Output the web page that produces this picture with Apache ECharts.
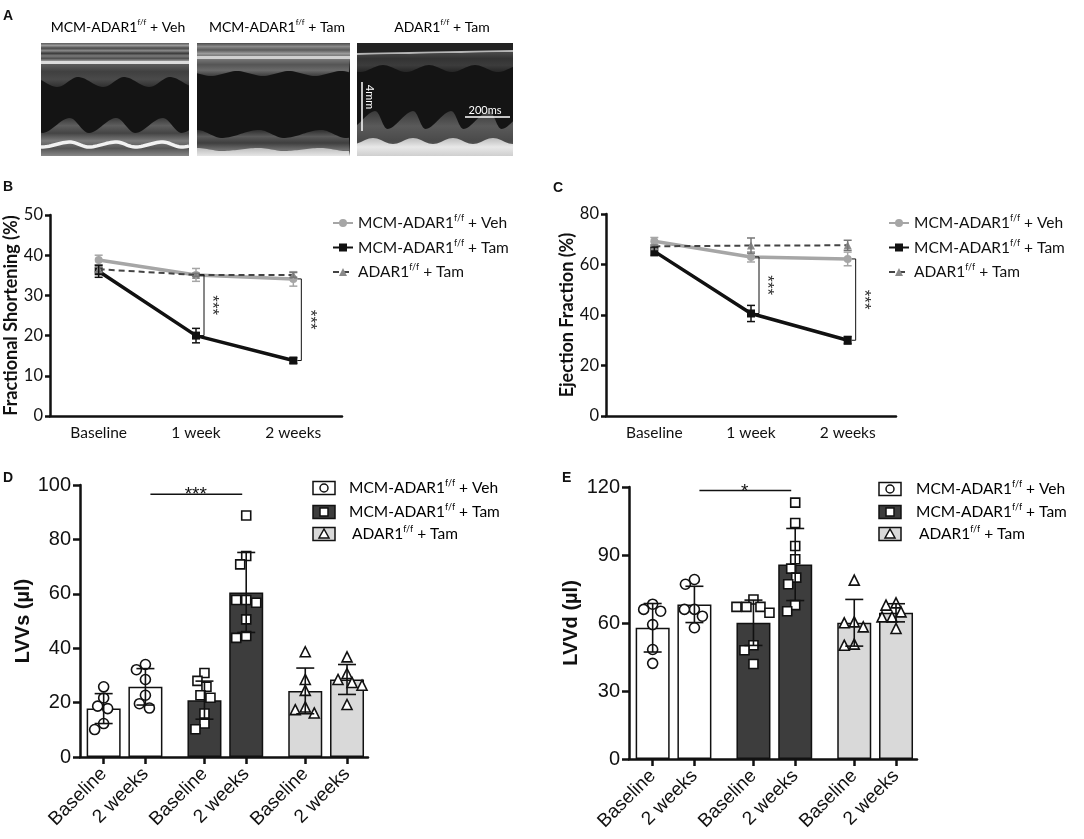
<!DOCTYPE html>
<html>
<head>
<meta charset="utf-8">
<script src="https://cdn.jsdelivr.net/npm/echarts@6/dist/echarts.min.js"></script>
<style>
html, body { margin: 0; padding: 0; background: #fff; }
#fig { width: 1084px; height: 839px; }
</style>
</head>
<body>
<div id="fig"></div>
<script>
// ---- data ----
let timeLabels = ['Baseline', '1 week', '2 weeks'];
let barLabels = ['Baseline', '2 weeks'];

// B: fractional shortening (%)
let fsVeh = [38.8, 35.1, 34.1];
let fsVehErr = [1.2, 1.6, 1.8];
let fsTam = [36.0, 20.0, 13.8];
let fsTamErr = [1.5, 1.8, 0.7];
let fsAdar = [36.5, 35.1, 35.1];
let fsAdarErr = [0.6, 0.4, 0.6];

// C: ejection fraction (%)
let efVeh = [69.2, 63.0, 62.2];
let efVehErr = [1.5, 2.0, 2.7];
let efTam = [65.2, 40.6, 30.0];
let efTamErr = [1.7, 3.2, 1.5];
let efAdar = [67.2, 67.5, 67.6];
let efAdarErr = [0.5, 3.0, 2.0];

// D: LVVs (µl) - bars in order Veh base, Veh 2w, Tam base, Tam 2w, Adar base, Adar 2w
let lvvsMean = [17.8, 25.8, 20.9, 60.5, 24.3, 28.5];
let lvvsSd = [5.5, 6.7, 7.0, 14.7, 8.4, 5.5];
let lvvsVehBase = [25.8, 21.7, 18.7, 17.8, 12.3, 10.1];
let lvvsVeh2w = [34.0, 32.1, 28.5, 22.7, 19.6, 18.0];
let lvvsTamBase = [30.9, 28.0, 25.8, 22.7, 21.8, 16.0, 12.3, 10.2];
let lvvsTam2w = [88.8, 73.9, 70.8, 57.7, 57.7, 56.7, 50.6, 44.5, 43.8];
let lvvsAdarBase = [38.7, 28.5, 24.5, 18.4, 17.4, 16.2];
let lvvsAdar2w = [36.8, 30.7, 28.5, 27.4, 26.4, 19.3];
let lvvsSigY = 96.6;

// E: LVVd (µl)
let lvvdMean = [57.9, 68.2, 60.1, 85.8, 60.1, 64.5];
let lvvdSd = [10.7, 8.0, 10.0, 15.9, 10.3, 4.0];
let lvvdVehBase = [68.3, 66.0, 65.2, 59.3, 48.3, 42.2];
let lvvdVeh2w = [79.2, 77.1, 66.0, 66.0, 63.0, 57.9];
let lvvdTamBase = [70.4, 67.1, 67.1, 67.1, 64.5, 50.2, 48.0, 41.9];
let lvvdTam2w = [113.1, 104.1, 94.0, 88.1, 84.0, 80.0, 77.1, 67.9, 65.2];
let lvvdAdarBase = [78.9, 60.5, 60.1, 58.3, 50.7, 50.2];
let lvvdAdar2w = [68.9, 67.9, 64.9, 62.7, 62.7, 57.6];
let lvvdSigY = 118.5;

// ---- layout / style ----
const FONT = 'Lato, "Open Sans", sans-serif';
const ARIAL = '"Liberation Sans", Arial, sans-serif';
const INK = '#111';
const barColors = ['#ffffff', '#3d3d3d', '#d9d9d9'];
const barSymbols = ['circle', 'rect', 'triangle'];
// bar centres on a 0..14 value axis: pairs of bars, three groups
let xpos = [];
for (let g = 0; g < 3; g++) {
    for (let b = 0; b < 2; b++) xpos.push(1.15 + g * 4.9 + b * 2.03);
}
const pxPerX = 288 / 14;

function richFor(size) {
    return {
        n: {fontSize: size, fontFamily: FONT, color: INK, lineHeight: 18},
        s: {fontSize: Math.round(size * 0.55), fontFamily: FONT, color: INK, verticalAlign: 'top', lineHeight: 11}
    };
}
function groupText(key) {
    if (key === 'Veh') return '{n|MCM-ADAR1}{s|f/f}{n| + Veh}';
    if (key === 'Tam') return '{n|MCM-ADAR1}{s|f/f}{n| + Tam}';
    return '{n|ADAR1}{s|f/f}{n| + Tam}';
}

// spread points sideways so markers don't overlap (like a scatter dot plot)
function swarm(vals, pxPerY, minDist) {
    let order = vals.map((v, i) => i).sort((a, b) => vals[b] - vals[a]);
    let placed = [];
    let off = vals.map(() => 0);
    order.forEach(i => {
        for (let k = 0; k < 60; k++) {
            let c = k === 0 ? 0 : (k % 2 ? -1 : 1) * Math.ceil(k / 2);
            let ok = placed.every(p => Math.hypot(c - p.x, (vals[i] - p.v) * pxPerY) >= minDist);
            if (ok) { off[i] = c; placed.push({x: c, v: vals[i]}); break; }
        }
    });
    return off;
}

function errSeries(xi, data, color, cap, lw) {
    return {
        type: 'custom', xAxisIndex: xi, yAxisIndex: xi, z: 6, silent: true, clip: false,
        data: data,
        renderItem: function (params, api) {
            let x = api.value(0);
            let top = api.coord([x, api.value(2)]);
            let bot = api.coord([x, api.value(1)]);
            let st = {stroke: color, lineWidth: lw};
            return {type: 'group', children: [
                {type: 'line', shape: {x1: top[0], y1: top[1], x2: bot[0], y2: bot[1]}, style: st},
                {type: 'line', shape: {x1: top[0] - cap, y1: top[1], x2: top[0] + cap, y2: top[1]}, style: st},
                {type: 'line', shape: {x1: bot[0] - cap, y1: bot[1], x2: bot[0] + cap, y2: bot[1]}, style: st}
            ]};
        }
    };
}

function lineSeries(name, xi, vals, color, width, symbol, dashed) {
    return {
        name: name, type: 'line', xAxisIndex: xi, yAxisIndex: xi,
        data: vals, symbol: symbol, symbolSize: 8,
        lineStyle: {color: color, width: width, type: dashed ? [6, 4] : 'solid'},
        itemStyle: {color: dashed ? '#8a8a8a' : color},
        z: dashed ? 4 : 3
    };
}

// vertical significance bracket (panels B, C)
function vSig(xi, idxs, topVals, botVals) {
    return {
        type: 'custom', xAxisIndex: xi, yAxisIndex: xi, z: 7, silent: true, clip: false,
        data: idxs.map(i => [i, botVals[i], topVals[i]]),
        renderItem: function (params, api) {
            let t = api.coord([api.value(0), api.value(2)]);
            let b = api.coord([api.value(0), api.value(1)]);
            let x = t[0] + 8;
            let st = {stroke: INK, lineWidth: 1};
            return {type: 'group', children: [
                {type: 'line', shape: {x1: x, y1: t[1], x2: x, y2: b[1]}, style: st},
                {type: 'line', shape: {x1: x - 4, y1: t[1], x2: x, y2: t[1]}, style: st},
                {type: 'line', shape: {x1: x - 4, y1: b[1], x2: x, y2: b[1]}, style: st},
                {type: 'text', x: x + 8, y: (t[1] + b[1]) / 2, rotation: -Math.PI / 2,
                 style: {text: '***', fontSize: 17, fontFamily: ARIAL, fill: '#333', align: 'center', verticalAlign: 'middle'}}
            ]};
        }
    };
}

// horizontal significance line (panels D, E)
function hSig(xi, i1, i2, y, text) {
    return {
        type: 'custom', xAxisIndex: xi, yAxisIndex: xi, z: 7, silent: true, clip: false,
        data: [[xpos[i1], xpos[i2], y]],
        renderItem: function (params, api) {
            let a = api.coord([api.value(0), api.value(2)]);
            let b = api.coord([api.value(1), api.value(2)]);
            return {type: 'group', children: [
                {type: 'line', shape: {x1: a[0] + 5, y1: a[1], x2: b[0] - 4, y2: b[1]}, style: {stroke: INK, lineWidth: 1.5}},
                {type: 'text', x: (a[0] + b[0]) / 2, y: a[1] + 1,
                 style: {text: text, fontSize: 19, fontFamily: ARIAL, fill: INK, align: 'center', verticalAlign: 'middle'}}
            ]};
        }
    };
}

function barPanelSeries(xi, means, sds, groups, pxPerY) {
    let out = [];
    out.push({
        type: 'bar', xAxisIndex: xi, yAxisIndex: xi, barWidth: 34, z: 2,
        data: means.map((m, i) => ({value: [xpos[i], m], itemStyle: {color: barColors[Math.floor(i / 2)]}})),
        itemStyle: {borderColor: INK, borderWidth: 1.5}
    });
    groups.forEach((pair, g) => {
        let pts = [];
        pair.forEach((vals, b) => {
            let off = swarm(vals, pxPerY, 10);
            vals.forEach((v, k) => pts.push([xpos[g * 2 + b] + off[k] / pxPerX, v]));
        });
        out.push({
            type: 'scatter', xAxisIndex: xi, yAxisIndex: xi, z: 4, data: pts,
            symbol: barSymbols[g], symbolSize: g === 1 ? 9 : 10,
            itemStyle: {color: '#fff', borderColor: INK, borderWidth: 1.6, opacity: 1}
        });
    });
    out.push(errSeries(xi, means.map((m, i) => [xpos[i], m - sds[i], m + sds[i]]), INK, 9, 1.6));
    return out;
}

function catX(gi) {
    return {
        type: 'category', gridIndex: gi, data: timeLabels,
        axisLine: {lineStyle: {color: INK, width: 2.5}},
        axisTick: {alignWithLabel: true, length: 5, lineStyle: {color: INK, width: 2.5}},
        axisLabel: {color: INK, fontFamily: FONT, fontSize: 15.5, margin: 9}
    };
}
function barX(gi) {
    return {
        type: 'value', gridIndex: gi, min: 0, max: 14, splitLine: {show: false},
        axisLine: {show: true, onZero: false, lineStyle: {color: INK, width: 2.5}},
        axisTick: {show: true, customValues: xpos, length: 7, lineStyle: {color: INK, width: 2.5}},
        axisLabel: {
            customValues: xpos, rotate: 45, margin: 14, color: INK, fontFamily: ARIAL, fontSize: 19,
            formatter: function (v) {
                let i = xpos.findIndex(p => Math.abs(p - v) < 1e-6);
                return barLabels[(i < 0 ? 0 : i) % 2];
            }
        }
    };
}
function valY(gi, max, interval, name, gap, font, size, nameSize, tick) {
    return {
        type: 'value', gridIndex: gi, min: 0, max: max, interval: interval,
        splitLine: {show: false},
        axisLine: {show: true, lineStyle: {color: INK, width: 2.5}},
        axisTick: {show: true, length: tick, lineStyle: {color: INK, width: 2.5}},
        axisLabel: {color: INK, fontFamily: font, fontSize: size, margin: tick + 2},
        name: name, nameLocation: 'middle', nameGap: gap,
        nameTextStyle: {color: INK, fontFamily: font, fontWeight: 'bold', fontSize: nameSize}
    };
}

function lineLegend(left, names) {
    return {
        left: left, top: 209, orient: 'vertical', itemGap: 7.5, itemWidth: 20, itemHeight: 10,
        selectedMode: false, data: names,
        formatter: function (n) { return groupText(n.replace(/^(fs|ef)/, '')); },
        textStyle: {rich: richFor(15.5)}
    };
}

function barLegend(x, textX, cys) {
    let kids = [];
    cys.forEach((cy, g) => {
        kids.push({type: 'rect', shape: {x: x, y: cy - 6.5, width: 22, height: 13},
                   style: {fill: barColors[g], stroke: INK, lineWidth: 1.5}});
        let cx = x + 11;
        if (g === 0) kids.push({type: 'circle', shape: {cx: cx, cy: cy, r: 4}, style: {fill: '#fff', stroke: INK, lineWidth: 1.5}});
        if (g === 1) kids.push({type: 'rect', shape: {x: cx - 4, y: cy - 4, width: 8, height: 8}, style: {fill: '#fff', stroke: INK, lineWidth: 1.5}});
        if (g === 2) kids.push({type: 'polygon', shape: {points: [[cx, cy - 5], [cx - 5, cy + 4], [cx + 5, cy + 4]]}, style: {fill: '#fff', stroke: INK, lineWidth: 1.5}});
        kids.push({type: 'text', x: textX + (g === 2 ? 3 : 0), y: cy,
                   style: {text: groupText(['Veh', 'Tam', 'Adar'][g]), rich: richFor(15.5), verticalAlign: 'middle'}});
    });
    return {type: 'group', children: kids};
}

// ---- panel A: stand-ins for the M-mode echo images ----
function grad(stops) {
    return {type: 'linear', x: 0, y: 0, x2: 0, y2: 1, global: false,
            colorStops: stops.map((c, i) => ({offset: i / (stops.length - 1), color: c}))};
}
function wave(x0, w, base, amp, period, shift, rise) {
    let pts = [];
    for (let x = 0; x <= w; x += 2) {
        let t = ((x + shift) / period) % 1;
        if (t < 0) t += 1;
        let g = t < rise ? t / rise : (1 - t) / (1 - rise);
        g = g * g * (3 - 2 * g);
        pts.push([x0 + x, base - amp * g]);
    }
    return pts;
}
function echo(x0, y0, w, h, kind) {
    let k = [];
    let y1 = y0 + h;
    k.push({type: 'rect', shape: {x: x0, y: y0, width: w, height: h}, style: {fill: '#141414'}});
    if (kind === 1) {
        k.push({type: 'rect', shape: {x: x0, y: y0, width: w, height: 18},
                style: {fill: grad(['#5a5a5a', '#9a9a9a', '#4a4a4a', '#8a8a8a', '#3a3a3a', '#7a7a7a', '#505050', '#9a9a9a'])}});
        k.push({type: 'rect', shape: {x: x0, y: y0 + 18, width: w, height: 3}, style: {fill: '#dcdcdc'}});
        let ant = wave(x0, w, y0 + 34, -10, 46, 9, 0.55);
        k.push({type: 'polygon', shape: {points: [[x0, y0 + 21], [x0 + w, y0 + 21]].concat(ant.slice().reverse())},
                style: {fill: grad(['#5e5e5e', '#404040', '#4a4a4a', '#303030'])}});
        let post = wave(x0, w, y0 + 90, 15, 46.5, -1, 0.6);
        k.push({type: 'polygon', shape: {points: post.concat([[x0 + w, y1], [x0, y1]])},
                style: {fill: grad(['#3a3a3a', '#5e5e5e', '#444', '#7a7a7a', '#555', '#888'])}});
        k.push({type: 'polyline', shape: {points: wave(x0, w, y0 + 104, 5, 46.5, -1, 0.6)}, style: {stroke: '#f2f2f2', lineWidth: 3.5}});
    } else if (kind === 2) {
        k.push({type: 'rect', shape: {x: x0, y: y0, width: w, height: 14},
                style: {fill: grad(['#4a4a4a', '#8a8a8a', '#5a5a5a', '#9a9a9a', '#6a6a6a'])}});
        k.push({type: 'rect', shape: {x: x0, y: y0 + 13, width: w, height: 3}, style: {fill: '#cfcfcf'}});
        let ant = wave(x0, w, y0 + 28, -5, 52, 12, 0.5);
        k.push({type: 'polygon', shape: {points: [[x0, y0 + 16], [x0 + w, y0 + 16]].concat(ant.slice().reverse())},
                style: {fill: grad(['#777', '#555', '#6a6a6a', '#3c3c3c'])}});
        let post = wave(x0, w, y0 + 95, 8, 62, -25, 0.6);
        k.push({type: 'polygon', shape: {points: post.concat([[x0 + w, y1], [x0, y1]])},
                style: {fill: grad(['#2e2e2e', '#5a5a5a', '#3e3e3e', '#6e6e6e', '#555'])}});
        let bright = wave(x0, w, y0 + 108, 3, 62, -25, 0.6);
        k.push({type: 'polygon', shape: {points: bright.concat([[x0 + w, y1], [x0, y1]])}, style: {fill: grad(['#bdbdbd', '#e6e6e6'])}});
    } else {
        k.push({type: 'rect', shape: {x: x0, y: y0, width: w, height: 10}, style: {fill: '#222'}});
        k.push({type: 'line', shape: {x1: x0, y1: y0 + 11, x2: x0 + w, y2: y0 + 8}, style: {stroke: '#b5b5b5', lineWidth: 2}});
        let ant = wave(x0, w, y0 + 22, -7, 46, 20, 0.5);
        k.push({type: 'polygon', shape: {points: [[x0, y0 + 12], [x0 + w, y0 + 9]].concat(ant.slice().reverse())},
                style: {fill: grad(['#4a4a4a', '#333', '#3c3c3c', '#262626'])}});
        let post = wave(x0, w, y0 + 86, 18, 38, 8, 0.7);
        k.push({type: 'polygon', shape: {points: post.concat([[x0 + w, y1], [x0, y1]])},
                style: {fill: grad(['#3a3a3a', '#5a5a5a', '#4a4a4a', '#707070'])}});
        let bright = wave(x0, w, y0 + 101, 6, 40, 4, 0.5);
        k.push({type: 'polygon', shape: {points: bright.concat([[x0 + w, y1], [x0, y1]])}, style: {fill: grad(['#bcbcbc', '#e8e8e8', '#cfcfcf'])}});
        // scale bars
        k.push({type: 'line', shape: {x1: x0 + 5, y1: y0 + 39, x2: x0 + 5, y2: y0 + 88}, style: {stroke: '#fff', lineWidth: 1.5}});
        k.push({type: 'text', x: x0 + 13, y: y0 + 54, rotation: -Math.PI / 2,
                style: {text: '4mm', fill: '#fff', fontSize: 11, fontFamily: FONT, align: 'center', verticalAlign: 'middle'}});
        k.push({type: 'line', shape: {x1: x0 + 108, y1: y0 + 74, x2: x0 + 153, y2: y0 + 74}, style: {stroke: '#fff', lineWidth: 1.5}});
        k.push({type: 'text', x: x0 + 128, y: y0 + 67,
                style: {text: '200ms', fill: '#fff', fontSize: 11, fontFamily: FONT, align: 'center', verticalAlign: 'middle'}});
    }
    return {type: 'group', children: k};
}

function panelLetter(t, x, y) {
    return {type: 'text', x: x, y: y, style: {text: t, fontSize: 14, fontWeight: 'bold', fontFamily: ARIAL, fill: INK}};
}
function titleText(key, x, y) {
    return {type: 'text', x: x, y: y, style: {text: groupText(key), rich: richFor(14), align: 'center', verticalAlign: 'middle'}};
}

let chart = echarts.init(document.getElementById('fig'));

let option = {
    animation: false,
    backgroundColor: '#fff',
    textStyle: {fontFamily: FONT},
    grid: [
        {left: 50, top: 215, width: 292, height: 201},
        {left: 606, top: 214, width: 290, height: 202},
        {left: 80, top: 485, width: 288, height: 272},
        {left: 629, top: 487, width: 288, height: 272}
    ],
    xAxis: [catX(0), catX(1), barX(2), barX(3)],
    yAxis: [
        valY(0, 50, 10, 'Fractional Shortening (%)', 27, FONT, 16.5, 18, 5),
        valY(1, 80, 20, 'Ejection Fraction (%)', 27, FONT, 16.5, 18, 5),
        valY(2, 100, 20, 'LVVs (µl)', 46, ARIAL, 20, 20, 7),
        valY(3, 120, 30, 'LVVd (µl)', 48, ARIAL, 20, 20, 7)
    ],
    legend: [
        lineLegend(327, ['fsVeh', 'fsTam', 'fsAdar']),
        lineLegend(883, ['efVeh', 'efTam', 'efAdar'])
    ],
    series: [
        lineSeries('fsVeh', 0, fsVeh, '#a6a6a6', 3.5, 'circle', false),
        lineSeries('fsAdar', 0, fsAdar, '#444', 2, 'triangle', true),
        lineSeries('fsTam', 0, fsTam, INK, 3.5, 'rect', false),
        errSeries(0, fsVeh.map((m, i) => [i, m - fsVehErr[i], m + fsVehErr[i]]), '#a6a6a6', 4, 1.5),
        errSeries(0, fsAdar.map((m, i) => [i, m - fsAdarErr[i], m + fsAdarErr[i]]), '#777', 4, 1.5),
        errSeries(0, fsTam.map((m, i) => [i, m - fsTamErr[i], m + fsTamErr[i]]), INK, 4, 1.5),
        vSig(0, [1, 2], fsVeh, fsTam),

        lineSeries('efVeh', 1, efVeh, '#a6a6a6', 3.5, 'circle', false),
        lineSeries('efAdar', 1, efAdar, '#444', 2, 'triangle', true),
        lineSeries('efTam', 1, efTam, INK, 3.5, 'rect', false),
        errSeries(1, efVeh.map((m, i) => [i, m - efVehErr[i], m + efVehErr[i]]), '#a6a6a6', 4, 1.5),
        errSeries(1, efAdar.map((m, i) => [i, m - efAdarErr[i], m + efAdarErr[i]]), '#777', 4, 1.5),
        errSeries(1, efTam.map((m, i) => [i, m - efTamErr[i], m + efTamErr[i]]), INK, 4, 1.5),
        vSig(1, [1, 2], efVeh, efTam)
    ]
    .concat(barPanelSeries(2, lvvsMean, lvvsSd,
        [[lvvsVehBase, lvvsVeh2w], [lvvsTamBase, lvvsTam2w], [lvvsAdarBase, lvvsAdar2w]], 272 / 100))
    .concat([hSig(2, 1, 3, lvvsSigY, '***')])
    .concat(barPanelSeries(3, lvvdMean, lvvdSd,
        [[lvvdVehBase, lvvdVeh2w], [lvvdTamBase, lvvdTam2w], [lvvdAdarBase, lvvdAdar2w]], 272 / 120))
    .concat([hSig(3, 1, 3, lvvdSigY, '*')]),
    graphic: [
        panelLetter('A', 3, 9),
        panelLetter('B', 3, 180),
        panelLetter('C', 553, 181),
        panelLetter('D', 3, 471),
        panelLetter('E', 562, 471),
        titleText('Veh', 118, 27),
        titleText('Tam', 277, 27),
        titleText('Adar', 442, 27),
        echo(41, 43, 148, 113, 1),
        echo(197, 43, 153, 113, 2),
        echo(357, 43, 156, 113, 3),
        barLegend(313, 349, [488, 512, 534]),
        barLegend(879, 916, [489, 512, 534])
    ]
};

chart.setOption(option);
</script>
</body>
</html>
